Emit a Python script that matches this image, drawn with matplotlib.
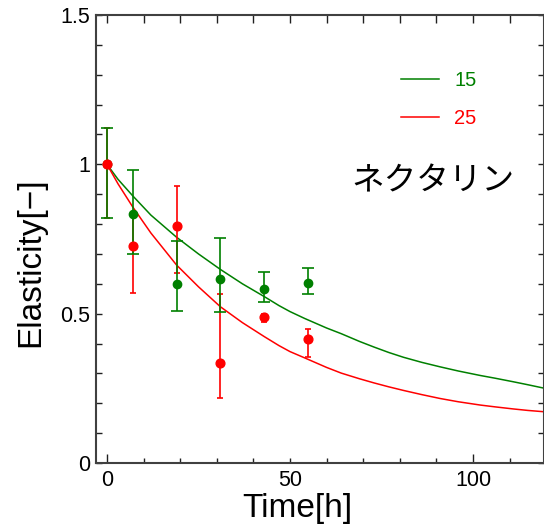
import numpy as np
import matplotlib
matplotlib.use("Agg")
import matplotlib.pyplot as plt
from matplotlib.ticker import MultipleLocator, FixedLocator

plt.rcParams['font.family'] = ['Liberation Sans', 'DejaVu Sans']

# measured points
t_obs = [0, 7, 19, 31, 43, 55]
g15 = [1.0, 0.834, 0.599, 0.616, 0.583, 0.604]
g15_hi = [1.12, 0.98, 0.744, 0.754, 0.640, 0.653]
g15_lo = [0.82, 0.70, 0.509, 0.507, 0.540, 0.567]
r25 = [1.0, 0.727, 0.793, 0.336, 0.488, 0.414]
r25_hi = [1.12, 0.83, 0.927, 0.566, 0.500, 0.450]
r25_lo = [0.82, 0.570, 0.635, 0.218, 0.472, 0.354]

# fitted curves
t_fit = [0, 3, 7, 12, 19, 25, 31, 37, 43, 47, 50, 54, 57, 60, 64, 69, 73,
         77, 81, 86, 91, 96, 102, 106, 111, 115, 120]
fit15 = [1.0, 0.95, 0.895, 0.83, 0.756, 0.70, 0.648, 0.60, 0.557, 0.527,
         0.507, 0.484, 0.468, 0.452, 0.433, 0.407, 0.388, 0.370, 0.354,
         0.337, 0.322, 0.308, 0.293, 0.284, 0.272, 0.262, 0.249]
fit25 = [1.0, 0.935, 0.858, 0.77, 0.663, 0.59, 0.523, 0.47, 0.423, 0.393,
         0.373, 0.352, 0.336, 0.320, 0.301, 0.282, 0.268, 0.255, 0.243,
         0.229, 0.216, 0.205, 0.194, 0.188, 0.181, 0.176, 0.171]

labels = ['15', '25']
green = '#008000'
red = '#ff0000'

fig = plt.figure(figsize=(5.44, 5.28), dpi=100)
ax = fig.add_axes([96 / 544, 65 / 528, 448 / 544, 448 / 528])

l15, = ax.plot(t_fit, fit15, color=green, lw=1.1, zorder=1.5)
l25, = ax.plot(t_fit, fit25, color=red, lw=1.1, zorder=1.5)


def err(y, hi, lo):
    y = np.array(y)
    return [y - np.array(lo), np.array(hi) - y]


ax.errorbar(t_obs, r25, yerr=err(r25, r25_hi, r25_lo), fmt='none',
            ecolor=red, elinewidth=1.2, capsize=2.3, capthick=1.2, zorder=2)
ax.errorbar(t_obs, g15, yerr=err(g15, g15_hi, g15_lo), fmt='none',
            ecolor=green, elinewidth=1.2, capsize=4.4, capthick=1.2, zorder=3)
ax.plot(t_obs, g15, 'o', color=green, ms=6, zorder=4)
ax.plot(t_obs, r25, 'o', color=red, ms=6.3, zorder=5)

ax.set_xlim(-3, 119.4)
ax.set_ylim(0, 1.5)

ax.xaxis.set_major_locator(FixedLocator([0, 50, 100]))
ax.xaxis.set_minor_locator(MultipleLocator(10))
ax.yaxis.set_major_locator(FixedLocator([0, 0.5, 1, 1.5]))
ax.yaxis.set_minor_locator(MultipleLocator(0.1))
ax.set_yticklabels(['0', '0.5', '1', '1.5'])

for s in ax.spines.values():
    s.set_color('#404040')
    s.set_linewidth(1.5)

ax.tick_params(which='both', direction='in', top=True, right=True,
               color='#202020', width=1.0, labelsize=15.5)
ax.tick_params(axis='x', which='major', length=6.5, pad=5)
ax.tick_params(axis='x', which='minor', length=3.5)
ax.tick_params(axis='y', which='both', length=4, pad=4)
ax.xaxis.get_major_ticks()[1].tick1line.set_markersize(3.5)
for tk in ax.xaxis.get_minor_ticks():
    tk.tick2line.set_markersize(5.5)
for tk in ax.xaxis.get_major_ticks():
    tk.tick2line.set_markersize(5.5)

ax.set_xlabel('Time[h]', fontsize=24)
ax.set_ylabel('Elasticity[\u2212]', fontsize=24)
ax.xaxis.set_label_coords(0.45, -0.066)
ax.yaxis.set_label_coords(-0.112, 0.449)

ax.legend([l15, l25], labels, loc='upper left', bbox_to_anchor=(0.681, 0.875),
          frameon=False, fontsize=14.5, labelcolor='linecolor', borderpad=0,
          borderaxespad=0, handlelength=1.9, handletextpad=0.75, labelspacing=0.95)

ax.text(89, 0.943, 'ネクタリン', fontsize=23.5, ha='center', va='center',
        family=['Noto Sans CJK JP', 'DejaVu Sans'])

fig.savefig('out.png', dpi=100)
